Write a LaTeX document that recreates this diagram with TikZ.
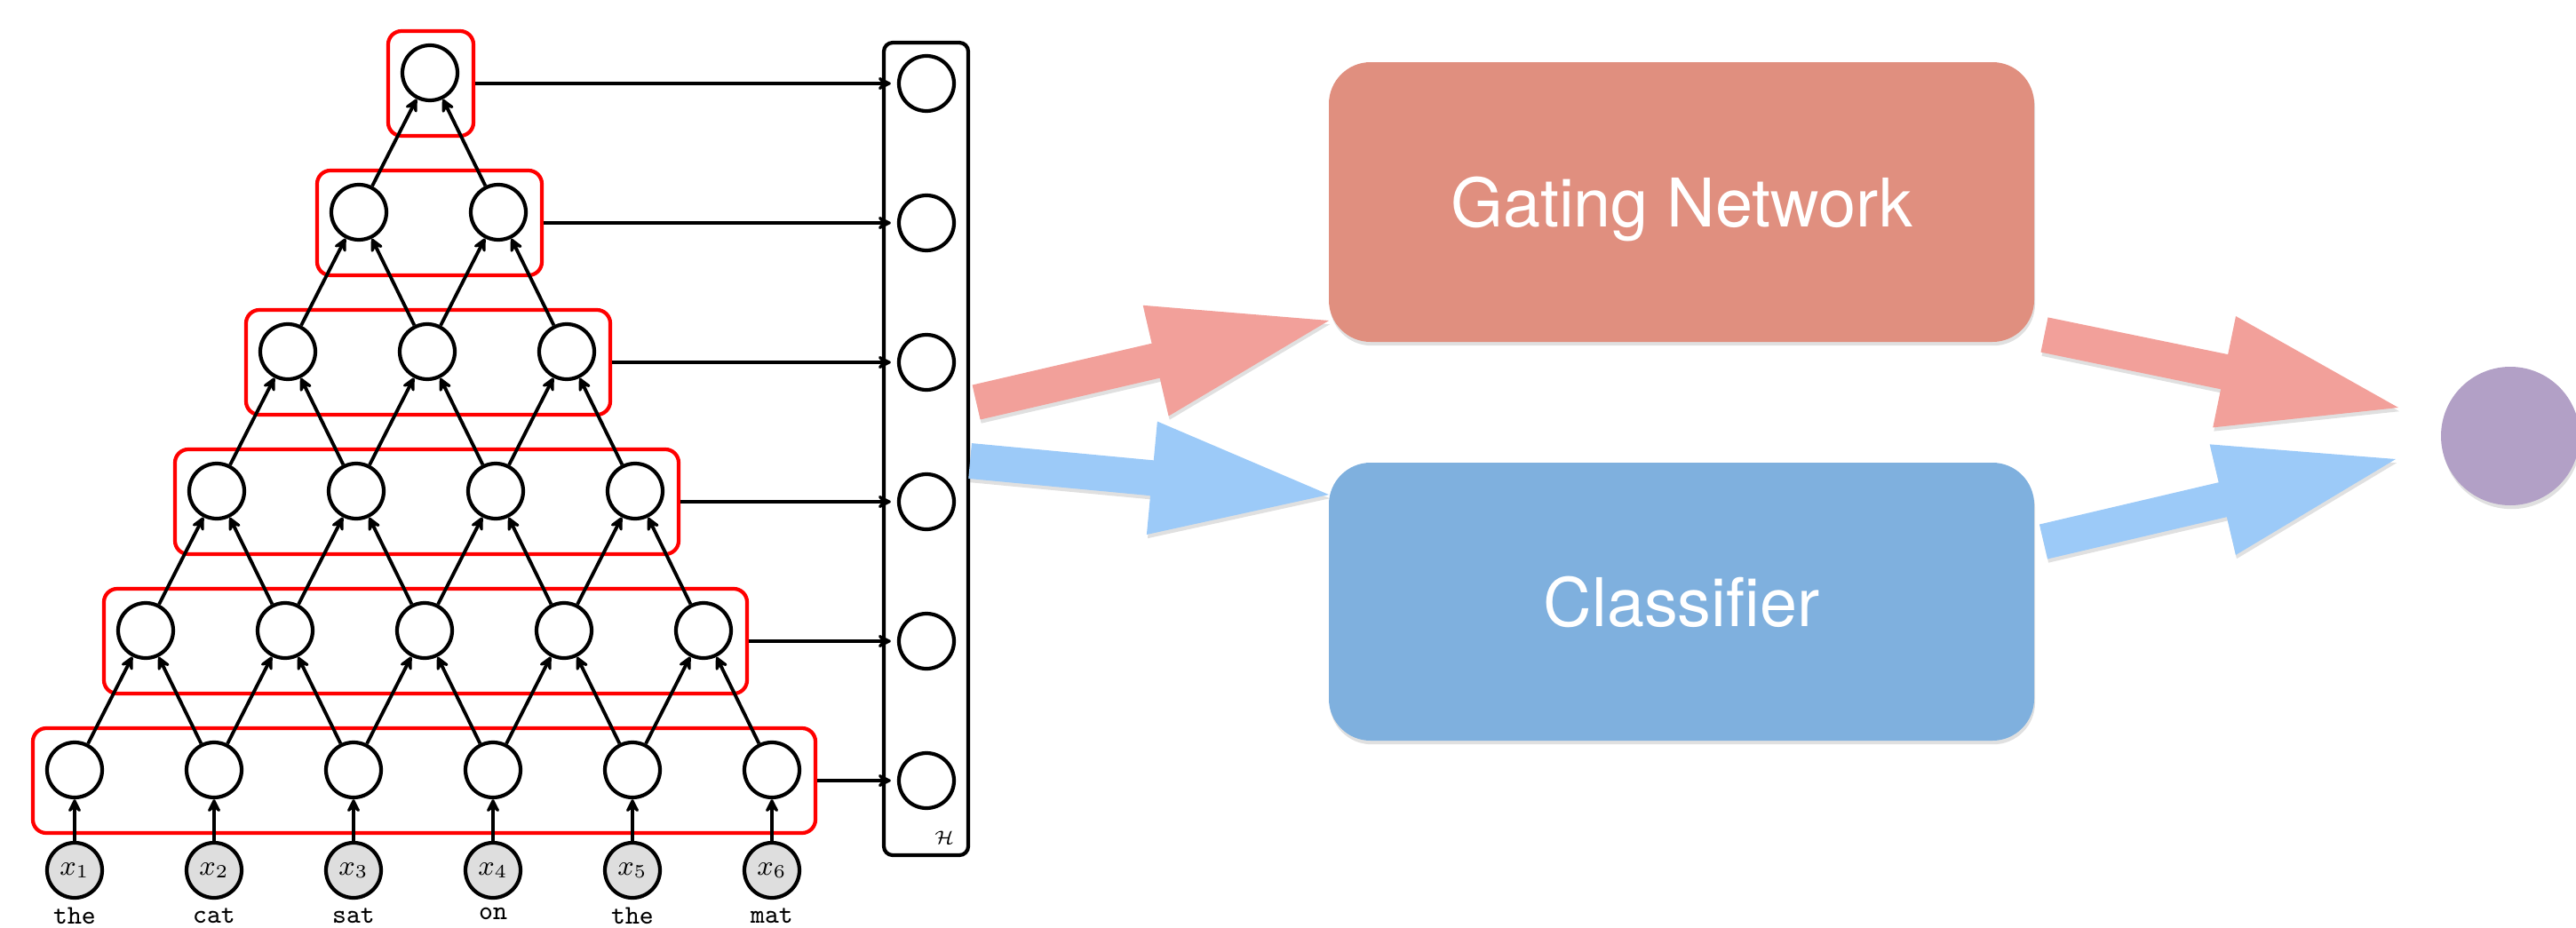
\documentclass[tikz,border=0pt]{standalone}
\usepackage{amsmath, amssymb}
\usepackage{fontspec}
\usepackage{tikz}
\usetikzlibrary{arrows.meta}
\usetikzlibrary{calc}
\usetikzlibrary{positioning}
\usetikzlibrary{shadows}
\newfontfamily\boxfont{TeX Gyre Heros}
\definecolor{gatered}{HTML}{E08F7F}
\definecolor{clsblue}{HTML}{7FB0DE}
\definecolor{arrowpink}{HTML}{F2A09A}
\definecolor{arrowblue}{HTML}{9CCAF8}
\definecolor{outpurple}{HTML}{B2A0C6}
\newcommand{\fatarrow}[3]{
	\coordinate (#1-hb) at ($(#2)!2cm!(#1)$);
	\fill[fat, #3] ($(#1)!0.2cm!90:(#2)$) -- ($(#1-hb)!0.2cm!90:(#2)$) -- ($(#1-hb)!0.64cm!90:(#2)$) -- (#2)
		-- ($(#1-hb)!0.64cm!-90:(#2)$) -- ($(#1-hb)!0.2cm!-90:(#2)$) -- ($(#1)!0.2cm!-90:(#2)$) -- cycle;
}

\begin{document}
\begin{tikzpicture}[
		neuron/.style={circle, draw, line width=1.2pt, minimum size=0.62cm, inner sep=0pt},
		inp/.style={neuron, fill=black!13, font=\fontsize{9}{10}\selectfont},
		layerbox/.style={draw=red, line width=1.2pt, rounded corners=0.15cm, minimum height=1.18cm, inner sep=0pt},
		hbox/.style={draw, line width=1.2pt, rounded corners=0.1cm, minimum width=0.95cm, minimum height=9.15cm, inner sep=0pt},
		conn/.style={-{Stealth[length=5.5pt, width=5.5pt, inset=2.2pt, round]}, line width=1.1pt},
		word/.style={font=\fontsize{8.6}{10}\selectfont\ttfamily, inner sep=1pt},
		bigbox/.style={rounded corners=0.47cm, minimum width=7.94cm, outer sep=0pt, text=white, text depth=0pt,
			font=\boxfont\fontsize{21.5}{26}\selectfont,
			drop shadow={shadow xshift=0.3pt, shadow yshift=-1.2pt, opacity=0.12, fill=black}},
		fat/.style={drop shadow={shadow xshift=0.3pt, shadow yshift=-1.2pt, opacity=0.12, fill=black}}
	]
	\useasboundingbox (0,0) rectangle (29,-10.45);
	\node[hbox] (hcol) at (10.425,-5.055) {};
	\node[inner sep=0pt, font=\fontsize{6.5}{7}\selectfont] (hname) at (10.63,-9.43) {$\mathcal{H}$};
	\foreach \r in {0,...,5} {
		\pgfmathtruncatemacro{\last}{5-\r}
		\pgfmathsetmacro{\rowy}{-8.67+1.57*\r}
		\pgfmathsetmacro{\rowx}{4.775+0.015*\r}
		\pgfmathsetmacro{\boxw}{0.96+1.57*\last}
		\node[layerbox, minimum width=\boxw cm] (box-\r) at (\rowx, \rowy-0.12) {};
		\foreach \c in {0,...,\last}
			\node[neuron] (n-\r-\c) at ({0.84+0.8*\r+1.57*\c}, \rowy) {};
		\node[neuron] (h-\r) at (10.43, \rowy-0.12) {};
		\draw[conn, shorten >=0.07cm] (box-\r) -- (h-\r);
	}
	\foreach \r in {0,...,4} {
		\pgfmathtruncatemacro{\last}{4-\r}
		\pgfmathtruncatemacro{\up}{\r+1}
		\foreach \c in {0,...,\last} {
			\pgfmathtruncatemacro{\nxt}{\c+1}
			\draw[conn] (n-\r-\c) -- (n-\up-\c);
			\draw[conn] (n-\r-\nxt) -- (n-\up-\c);
		}
	}
	\foreach \w [count=\i] in {the,cat,sat,on,the,mat} {
		\pgfmathtruncatemacro{\c}{\i-1}
		\node[inp] (x-\i) at ({0.84+1.57*\c}, -9.80) {$x_{\i}$};
		\node[word, below=0.05cm of x-\i] (w-\i) {\w};
		\draw[conn] (x-\i) -- (n-0-\c);
	}

	\node[bigbox, fill=gatered, minimum height=3.15cm] (gate) at (18.93,-2.275) {Gating Network};
	\node[bigbox, fill=clsblue, minimum height=3.13cm] (cls) at (18.93,-6.775) {Classifier};
	\node[circle, fill=outpurple, minimum size=1.56cm, outer sep=0pt, inner sep=0pt,
		drop shadow={shadow xshift=0.4pt, shadow yshift=-1.2pt, opacity=0.12, fill=black}] (out) at (28.26,-4.91) {};

	\coordinate (gin) at ($(hcol.east)+(0.07,0.525)$);
	\coordinate (gin-tip) at ($(gate.west)+(0,-1.335)$);
	\coordinate (cin) at ($(hcol.east)+(0,-0.135)$);
	\coordinate (cin-tip) at ($(cls.west)+(0,1.205)$);
	\coordinate (gout) at ($(gate.east)+(0.115,-1.495)$);
	\coordinate (gout-tip) at ($(out.west)+(-0.48,0.32)$);
	\coordinate (cout) at ($(cls.east)+(0.105,0.675)$);
	\coordinate (cout-tip) at ($(out.west)+(-0.51,-0.26)$);
	\fatarrow{gin}{gin-tip}{arrowpink}
	\fatarrow{cin}{cin-tip}{arrowblue}
	\fatarrow{gout}{gout-tip}{arrowpink}
	\fatarrow{cout}{cout-tip}{arrowblue}
\end{tikzpicture}
\end{document}
